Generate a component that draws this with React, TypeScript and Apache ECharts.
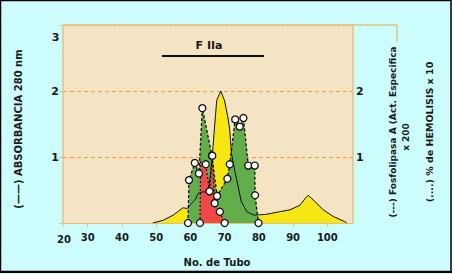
import React, { useEffect, useRef } from "react";
import * as echarts from "echarts";

// No. de Tubo / value pairs
const absorbancia: number[][] = [
  [49, 0], [52, 0.04], [55, 0.12], [57.8, 0.23], [59.2, 0.22], [59.9, 0.27], [61.5, 0.36],
  [62.3, 0.45], [63.5, 0.47], [64.7, 0.47], [65.5, 0.56], [66.3, 0.95], [66.9, 1.35],
  [67.7, 1.86], [68.9, 2.0], [70.0, 1.85], [71.0, 1.59], [71.5, 1.41], [72.0, 1.05],
  [73.0, 0.78], [74.9, 0.32], [76.5, 0.17], [78.5, 0.12], [82, 0.13], [86, 0.17],
  [89.1, 0.2], [92, 0.27], [93.5, 0.37], [94.4, 0.42], [96.5, 0.32], [98.8, 0.2],
  [101.7, 0.1], [105.1, 0.02], [105.7, 0],
];
const fosfolipasa: number[][] = [
  [59.3, 0], [59.6, 0.65], [61.3, 0.91], [62.5, 0.75], [63.5, 1.74], [66.3, 1.02],
  [67.8, 0.41], [70.8, 0.67], [71.5, 0.89], [73.1, 1.57], [74.4, 1.46], [75.5, 1.59],
  [76.9, 0.87], [78.8, 0.87], [78.9, 0.42], [79.9, 0],
];
const hemolisis: number[][] = [
  [62.8, 0], [63.0, 0.93], [64.5, 0.89], [65.6, 0.48], [66.4, 1.02], [67.1, 0.3], [68.6, 0.17], [70.0, 0],
];
const hemolisisMarked = [true, false, true, true, true, true, true, true];
const xTicks = [30, 40, 50, 60, 70, 80, 90, 100];
const yLabels = [1, 2];

const TAN = "#e4c07f";
const PLOT_BG = "#f5e4c3";
const DASH = "#f29a3a";
const TXT = "#1a1a1a";
const FONT = "DejaVu Sans";

export default function App() {
  const ref = useRef<HTMLDivElement>(null);
  useEffect(() => {
    if (!ref.current) return;
    const chart = echarts.init(ref.current, null, { renderer: "svg" });
    const L = 63, T = 25, R = 353, B = 223;
    const labelStyle = { fontFamily: FONT, fontWeight: "bold" as const, fill: TXT };
    const markerStyle = { color: "#ffffff", borderColor: "#111", borderWidth: 1.3, opacity: 1 };
    chart.setOption({
      animation: false,
      backgroundColor: "#ccfcfc",
      grid: { left: L, top: T, width: R - L, height: B - T, show: true, backgroundColor: PLOT_BG, borderWidth: 0 },
      xAxis: {
        type: "value", min: 22.8, max: 107.5,
        axisLine: { lineStyle: { color: TAN, width: 1.2 } },
        axisTick: { customValues: xTicks, length: 4, lineStyle: { color: TAN } },
        axisLabel: { customValues: xTicks, color: TXT, fontFamily: FONT, fontWeight: "bold", fontSize: 10, margin: 9 },
        splitLine: { show: false },
      },
      yAxis: [
        {
          type: "value", min: 0, max: 3, interval: 1, position: "left",
          axisLine: { show: false },
          axisTick: { show: true, length: 4, lineStyle: { color: TAN } },
          axisLabel: {
            color: TXT, fontFamily: FONT, fontWeight: "bold", fontSize: 11, margin: 4,
            formatter: (v: number) => (yLabels.includes(v) ? String(v) : ""),
          },
          splitLine: { show: true, lineStyle: { color: DASH, type: [4, 3], width: 1.2 } },
        },
        {
          type: "value", min: 0, max: 3, interval: 1, position: "right",
          axisLine: { show: false },
          axisTick: { show: false },
          axisLabel: {
            color: TXT, fontFamily: FONT, fontWeight: "bold", fontSize: 11, margin: 3,
            formatter: (v: number) => (yLabels.includes(v) ? String(v) : ""),
          },
          splitLine: { show: false },
        },
      ],
      series: [
        {
          type: "line", data: absorbancia, symbol: "none", z: 2,
          lineStyle: { width: 0 }, areaStyle: { color: "#f5e614", opacity: 1 },
        },
        {
          type: "line", data: fosfolipasa, symbol: "none", z: 3,
          lineStyle: { color: "#111", width: 1.3, type: [3, 2] },
          areaStyle: { color: "#63ad4b", opacity: 1 },
        },
        {
          type: "line", data: hemolisis, symbol: "none", z: 4,
          lineStyle: { color: "#111", width: 1.2, type: [2, 2] },
          areaStyle: { color: "#f04848", opacity: 1 },
        },
        {
          type: "line", data: absorbancia, symbol: "none", z: 5,
          lineStyle: { color: "#111", width: 1 },
        },
        {
          type: "scatter", z: 10, data: fosfolipasa, symbol: "circle", symbolSize: 7,
          itemStyle: markerStyle,
        },
        {
          type: "scatter", z: 10, data: hemolisis.filter((_, i) => hemolisisMarked[i]), symbol: "circle", symbolSize: 7,
          itemStyle: markerStyle,
        },
      ],
      graphic: [
        { type: "line", z: 100, shape: { x1: L, y1: T, x2: L, y2: B }, style: { stroke: TAN, lineWidth: 1.5 } },
        { type: "line", z: 100, shape: { x1: L, y1: T, x2: 397, y2: T }, style: { stroke: TAN, lineWidth: 1.5 } },
        { type: "line", z: 100, shape: { x1: R, y1: T, x2: R, y2: B }, style: { stroke: TAN, lineWidth: 1.5 } },
        { type: "line", z: 100, shape: { x1: 397, y1: T, x2: 397, y2: 42 }, style: { stroke: TAN, lineWidth: 1.5 } },
        { type: "line", z: 100, shape: { x1: L, y1: B, x2: L, y2: B + 4 }, style: { stroke: TAN, lineWidth: 1 } },
        { type: "text", z: 100, x: 64, y: 239, style: { ...labelStyle, text: "20", fontSize: 10, textAlign: "center", textVerticalAlign: "middle" } },
        { type: "text", z: 100, x: 59.5, y: 37, style: { ...labelStyle, text: "3", fontSize: 11, textAlign: "right", textVerticalAlign: "middle" } },
        { type: "text", z: 100, x: 209, y: 45, style: { ...labelStyle, text: "F IIa", fontSize: 11, textAlign: "center", textVerticalAlign: "middle" } },
        { type: "line", z: 100, shape: { x1: 162, y1: 56, x2: 264, y2: 56 }, style: { stroke: "#111", lineWidth: 2 } },
        { type: "text", z: 100, x: 217, y: 262, style: { ...labelStyle, text: "No. de Tubo", fontSize: 10, textAlign: "center", textVerticalAlign: "middle" } },
        { type: "text", z: 100, x: 18, y: 129, rotation: Math.PI / 2, style: { ...labelStyle, text: "(——) ABSORBANCIA 280 nm", fontSize: 10, textAlign: "center", textVerticalAlign: "middle" } },
        { type: "text", z: 100, x: 393, y: 132, rotation: Math.PI / 2, style: { ...labelStyle, text: "(---) Fosfolipasa A (Act. Especifica", fontSize: 9, textAlign: "center", textVerticalAlign: "middle" } },
        { type: "text", z: 100, x: 406, y: 137, rotation: Math.PI / 2, style: { ...labelStyle, text: "x 200", fontSize: 9, textAlign: "center", textVerticalAlign: "middle" } },
        { type: "text", z: 100, x: 429, y: 132, rotation: Math.PI / 2, style: { ...labelStyle, text: "(....) % de HEMOLISIS x 10", fontSize: 9.5, textAlign: "center", textVerticalAlign: "middle" } },
        { type: "rect", z: 100, shape: { x: 0.5, y: 0.5, width: 450.5, height: 271 }, style: { fill: "none", stroke: "#000", lineWidth: 1.5 } },
        { type: "line", z: 100, shape: { x1: 0, y1: 272, x2: 452, y2: 272 }, style: { stroke: "#000", lineWidth: 2 } },
      ],
    });
    return () => chart.dispose();
  }, []);
  return (
    <div
      ref={ref}
      style={{ position: "absolute", left: 0, top: 0, width: 452, height: 274, background: "#ffffff" }}
    />
  );
}
